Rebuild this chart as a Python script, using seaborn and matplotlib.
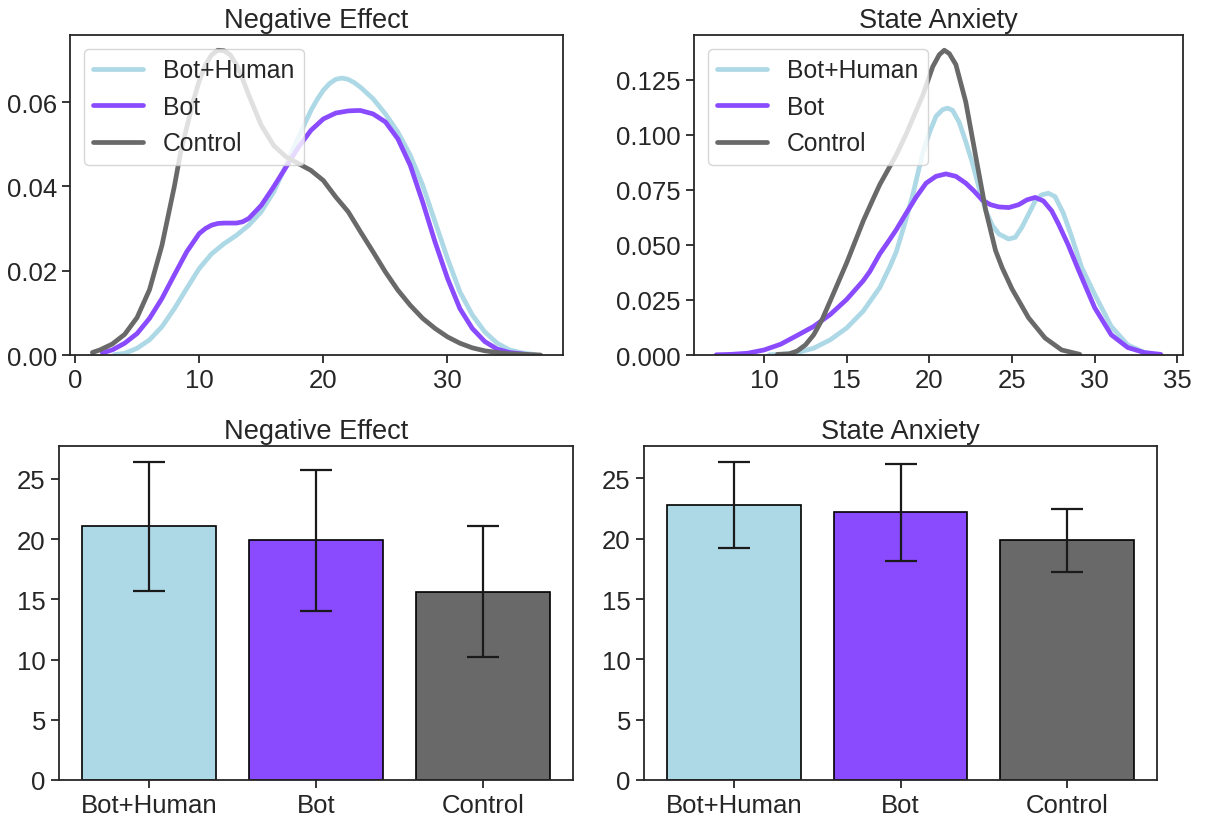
import numpy as np
import pandas as pd
import seaborn as sns
import matplotlib
matplotlib.use("Agg")
import matplotlib.pyplot as plt

groups = ["Bot+Human", "Bot", "Control"]
colors = ["#ADD8E6", "#8A4BFF", "#696969"]

# --- Negative Effect density curves ---
ne_bh_x = [3.2, 4, 5, 6, 7, 8, 9, 10, 11, 12, 13, 14, 15, 16, 17, 18, 19, 19.5, 20, 20.5, 21, 21.5, 22, 22.5, 23, 24, 25, 26, 27, 28, 29, 30, 31, 32, 33, 34, 35, 36, 37.1]
ne_bh_y = [0.0001, 0.0004, 0.0016, 0.0036, 0.0067, 0.011, 0.0158, 0.0205, 0.024, 0.0264, 0.0284, 0.0308, 0.034, 0.0387, 0.045, 0.0517, 0.058, 0.0606, 0.0628, 0.0644, 0.0654, 0.0657, 0.0654, 0.0646, 0.0635, 0.0608, 0.0572, 0.0529, 0.0474, 0.0403, 0.0316, 0.0229, 0.015, 0.0095, 0.0055, 0.0028, 0.0012, 0.0005, 0.0001]
ne_bot_x = [2.2, 3, 4, 5, 6, 7, 8, 9, 10, 10.5, 11, 11.5, 12, 12.5, 13, 13.5, 14, 15, 16, 17, 18, 19, 20, 21, 22, 22.7, 23, 24, 25, 26, 27, 28, 29, 30, 31, 32, 33, 34, 35, 36.5]
ne_bot_y = [0.0005, 0.0012, 0.0028, 0.0051, 0.0087, 0.0134, 0.019, 0.0245, 0.0288, 0.0300, 0.0308, 0.0312, 0.0313, 0.0313, 0.0313, 0.0316, 0.0324, 0.0355, 0.0399, 0.0446, 0.0493, 0.0533, 0.056, 0.0574, 0.0579, 0.058, 0.058, 0.0572, 0.0553, 0.0513, 0.045, 0.0363, 0.0268, 0.0182, 0.011, 0.0063, 0.0032, 0.0014, 0.0006, 0.0001]
ne_ctl_x = [1.4, 2, 3, 4, 5, 6, 7, 8, 8.5, 9, 9.5, 10, 10.5, 11, 11.5, 12, 12.5, 13, 13.5, 14, 15, 16, 17, 18, 19, 20, 21, 22, 23, 24, 25, 26, 27, 28, 29, 30, 31, 32, 33, 34, 35, 37.5]
ne_ctl_y = [0.0006, 0.0012, 0.0026, 0.0049, 0.0089, 0.0155, 0.026, 0.04, 0.048, 0.054, 0.06, 0.065, 0.0688, 0.0712, 0.0723, 0.0722, 0.0712, 0.0689, 0.0655, 0.0616, 0.0545, 0.0497, 0.047, 0.0454, 0.0438, 0.0414, 0.0375, 0.034, 0.0292, 0.0245, 0.0197, 0.0154, 0.0118, 0.0087, 0.0063, 0.0043, 0.0028, 0.0017, 0.001, 0.0006, 0.0003, 0.0]

# --- State Anxiety density curves ---
sa_bh_x = [10.3, 11, 12, 13, 14, 15, 16, 17, 17.6, 18, 18.6, 19, 19.6, 20, 20.4, 20.8, 21.1, 21.4, 21.8, 22.2, 22.6, 23, 23.4, 23.8, 24.2, 24.8, 25.2, 25.6, 26, 26.4, 26.8, 27.2, 27.6, 28.1, 28.6, 29.2, 30, 31, 32, 33, 33.5]
sa_bh_y = [0.0001, 0.0003, 0.0011, 0.0031, 0.0069, 0.0123, 0.02, 0.0307, 0.040, 0.047, 0.062, 0.073, 0.092, 0.101, 0.1085, 0.1115, 0.1122, 0.1112, 0.1058, 0.0970, 0.0873, 0.0760, 0.0658, 0.0590, 0.0550, 0.0527, 0.0535, 0.0581, 0.0640, 0.0700, 0.0728, 0.0735, 0.0720, 0.0645, 0.0540, 0.0400, 0.0276, 0.013, 0.0046, 0.0012, 0.0006]
sa_bot_x = [7.1, 8, 9, 10, 11, 12, 13, 14, 15, 16, 16.4, 17, 17.6, 18, 18.6, 19.2, 19.8, 20.4, 21.0, 21.6, 22.2, 22.7, 23.2, 23.7, 24.2, 24.8, 25.4, 25.9, 26.4, 26.9, 27.4, 27.8, 28.4, 29, 30, 31, 32, 33, 34]
sa_bot_y = [0.0001, 0.0003, 0.0008, 0.0023, 0.0049, 0.0089, 0.013, 0.0184, 0.0253, 0.0338, 0.038, 0.046, 0.0525, 0.057, 0.0645, 0.0718, 0.0781, 0.0812, 0.0823, 0.0812, 0.0781, 0.0745, 0.0704, 0.0683, 0.0673, 0.0670, 0.0683, 0.0705, 0.0716, 0.0700, 0.0655, 0.0597, 0.0500, 0.0390, 0.0215, 0.0092, 0.0034, 0.0011, 0.0003]
sa_ctl_x = [10.8, 11.5, 12, 12.5, 13, 13.5, 14, 15, 16, 16.6, 17, 18, 18.6, 19.2, 19.6, 20.2, 20.6, 20.9, 21.2, 21.6, 22.2, 22.8, 23.4, 24, 24.4, 25, 26, 27, 28, 29.1]
sa_ctl_y = [0.0003, 0.0005, 0.0018, 0.0046, 0.0092, 0.016, 0.0246, 0.042, 0.061, 0.071, 0.0775, 0.091, 0.1005, 0.111, 0.118, 0.1310, 0.1365, 0.1385, 0.1370, 0.1320, 0.1150, 0.0904, 0.0660, 0.0475, 0.0397, 0.0300, 0.0169, 0.0077, 0.0023, 0.0003]

# --- Bar means and SDs ---
ne_means = [21.05, 19.9, 15.64]
ne_sds = [5.35, 5.85, 5.43]
sa_means = [22.79, 22.18, 19.88]
sa_sds = [3.58, 4.03, 2.6]

sns.set_theme(style="ticks")
plt.rcParams['font.family'] = ['Liberation Sans', 'DejaVu Sans']
plt.rcParams.update({
    "xtick.labelsize": 18.5,
    "ytick.labelsize": 18.5,
    "axes.titlesize": 19.6,
    "legend.fontsize": 17.8,
    "xtick.major.size": 6,
    "ytick.major.size": 6,
    "xtick.major.width": 1.3,
    "ytick.major.width": 1.3,
    "axes.linewidth": 1.3,
})

W, H = 1206, 820
fig = plt.figure(figsize=(W / 100, H / 100), dpi=100)

def px_axes(x0, x1, y0, y1):
    return fig.add_axes([x0 / W, (H - y1) / H, (x1 - x0) / W, (y1 - y0) / H])

ax_tl = px_axes(70, 563, 36, 356)
ax_tr = px_axes(694, 1183, 36, 356)
ax_bl = px_axes(59, 573, 447, 781)
ax_br = px_axes(644, 1157, 447, 781)

def kde_panel(ax, series, title):
    for (xs, ys), g, c in zip(series, groups, colors):
        df = pd.DataFrame({"x": xs, "y": ys})
        sns.lineplot(data=df, x="x", y="y", ax=ax, color=c, linewidth=3.4, label=g)
    ax.set_title(title)
    ax.set_xlabel("")
    ax.set_ylabel("")
    ax.set_ylim(bottom=0)
    ax.legend(loc="upper left", borderaxespad=0.55, handlelength=2.0)

kde_panel(ax_tl, [(ne_bh_x, ne_bh_y), (ne_bot_x, ne_bot_y), (ne_ctl_x, ne_ctl_y)], "Negative Effect")
ax_tl.set_xticks([0, 10, 20, 30])
ax_tl.set_yticks([0.0, 0.02, 0.04, 0.06])
ax_tl.set_yticklabels(["0.00", "0.02", "0.04", "0.06"])

kde_panel(ax_tr, [(sa_bh_x, sa_bh_y), (sa_bot_x, sa_bot_y), (sa_ctl_x, sa_ctl_y)], "State Anxiety")
ax_tr.set_xticks([10, 15, 20, 25, 30, 35])
ax_tr.set_yticks([0.0, 0.025, 0.05, 0.075, 0.1, 0.125])
ax_tr.set_yticklabels(["0.000", "0.025", "0.050", "0.075", "0.100", "0.125"])

def bar_panel(ax, means, sds, title):
    df = pd.DataFrame({"group": groups, "value": means})
    sns.barplot(data=df, x="group", y="value", hue="group", palette=colors,
                order=groups, hue_order=groups, edgecolor="black", linewidth=1.2,
                width=0.8, saturation=1, errorbar=None, legend=False, ax=ax)
    ax.errorbar(x=np.arange(len(groups)), y=means, yerr=sds, fmt="none",
                ecolor="#1a1a1a", elinewidth=1.6, capsize=11.5, capthick=1.6)
    ax.set_xlim(-0.54, 2.54)
    top = max(m + s for m, s in zip(means, sds)) * 1.05
    ax.set_ylim(0, top)
    ax.set_title(title)
    ax.set_xlabel("")
    ax.set_ylabel("")

bar_panel(ax_bl, ne_means, ne_sds, "Negative Effect")
bar_panel(ax_br, sa_means, sa_sds, "State Anxiety")

fig.savefig("out.png", dpi=100)
